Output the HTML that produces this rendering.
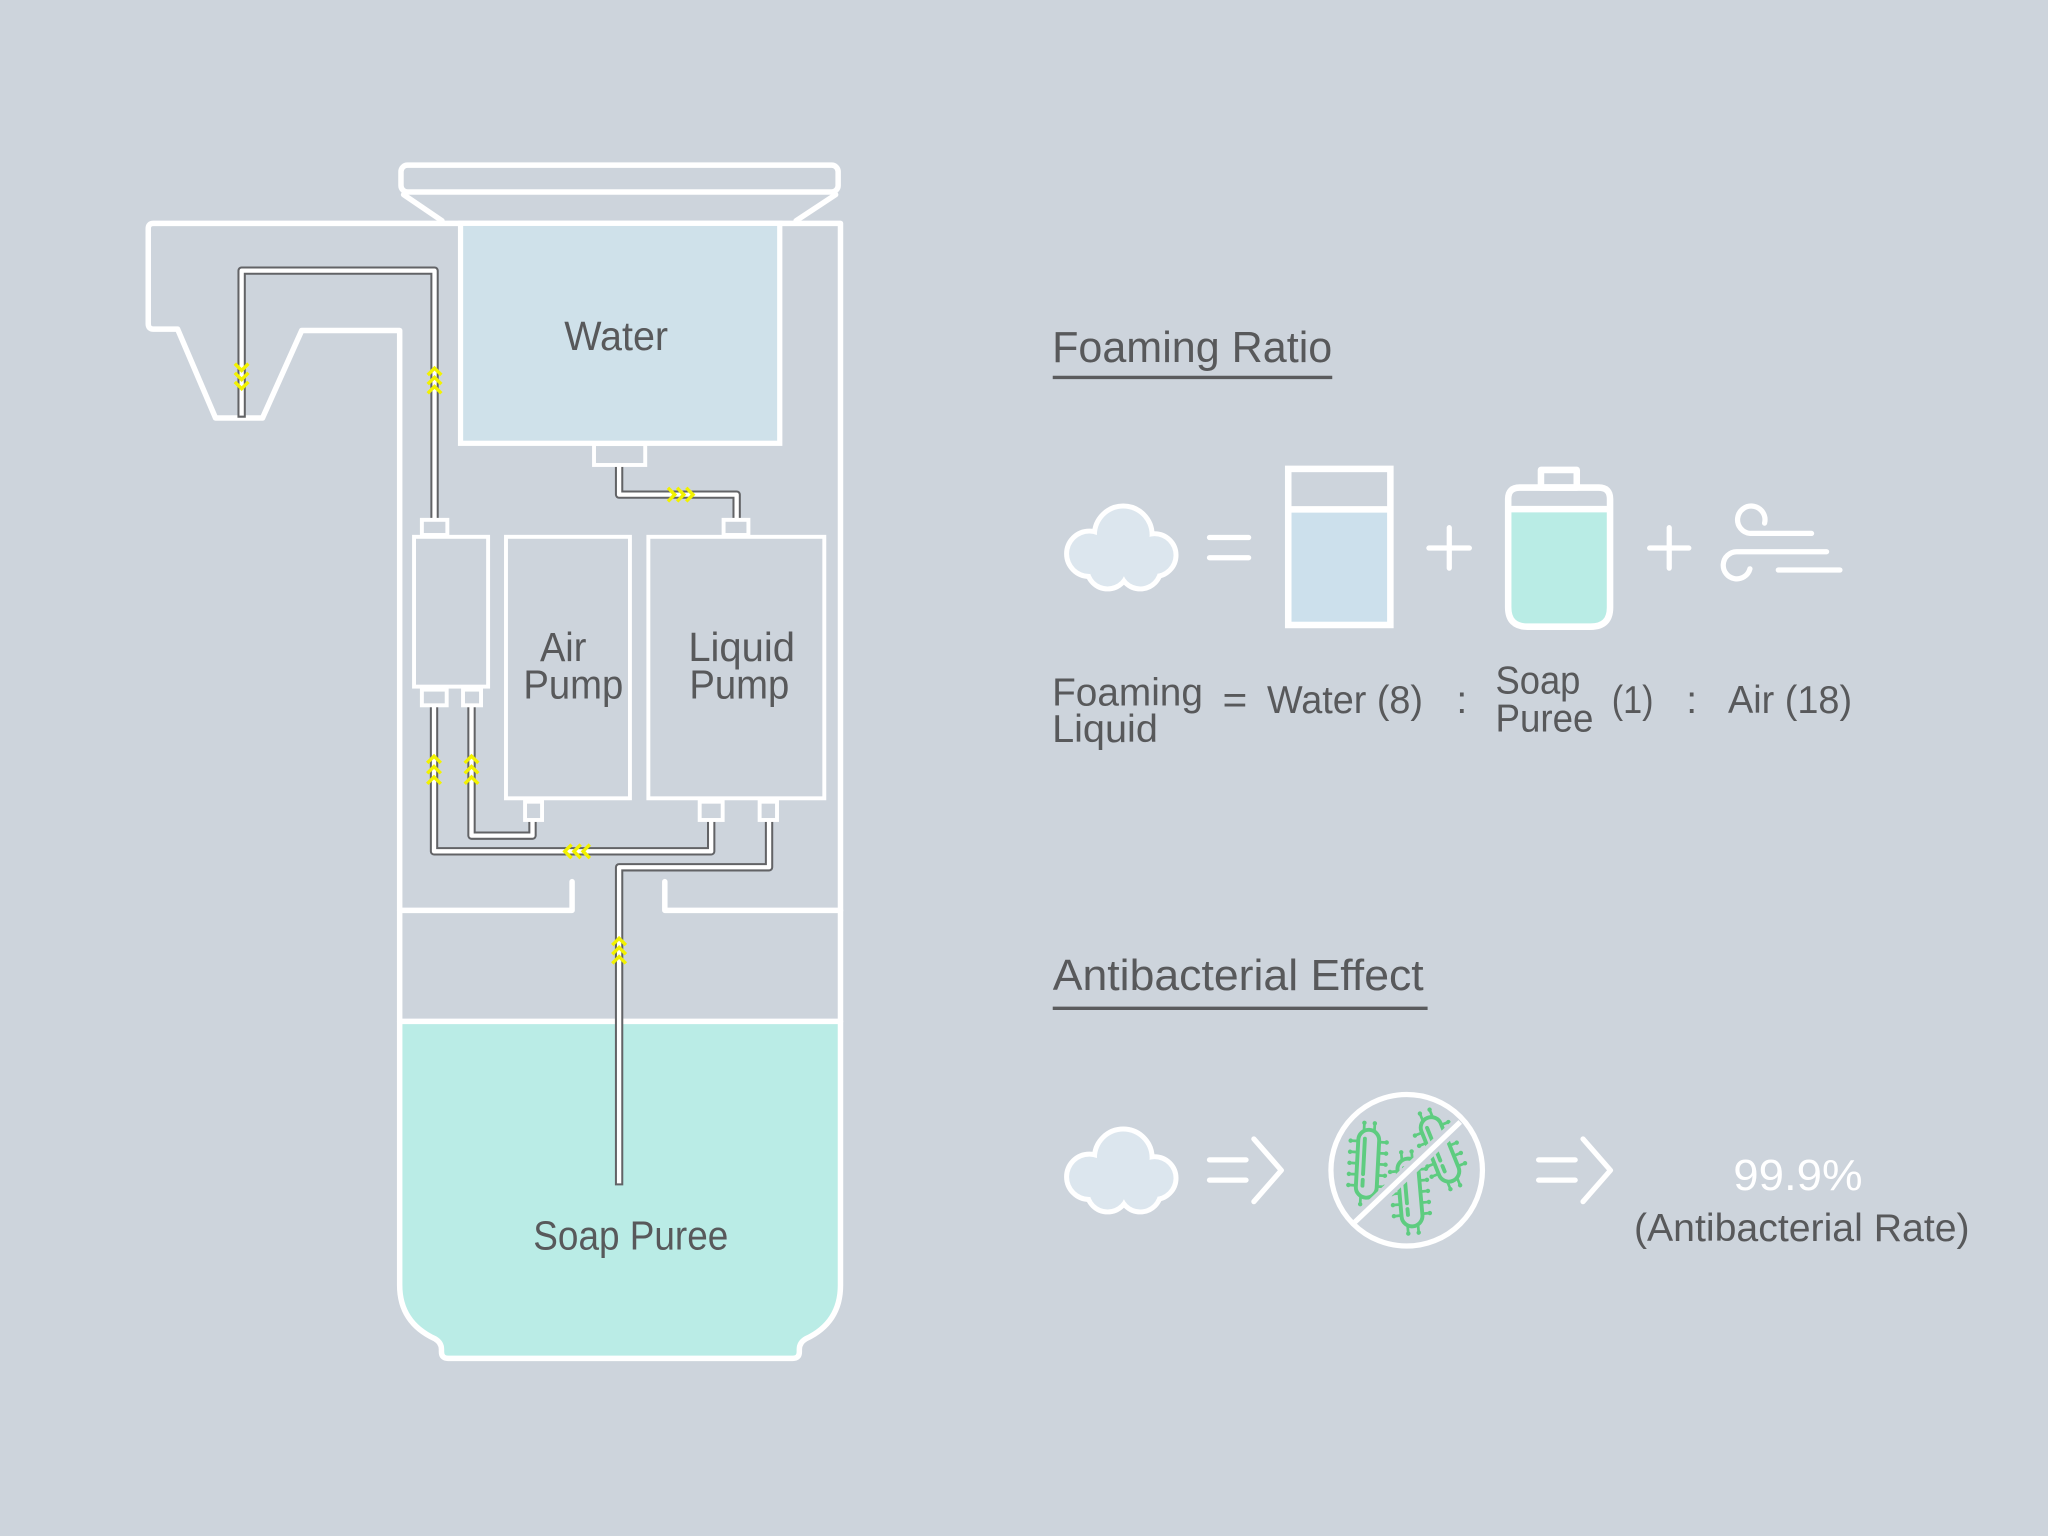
<!DOCTYPE html>
<html>
<head>
<meta charset="utf-8">
<style>
html,body{margin:0;padding:0;background:#CDD4DC;}
svg{display:block}
text{font-family:"Liberation Sans","DejaVu Sans",sans-serif;fill:#58595B;}
</style>
</head>
<body>
<svg xmlns="http://www.w3.org/2000/svg" width="2048" height="1536" viewBox="0 0 1568 1176">
<defs>
  <g id="bact">
    <rect x="-8" y="-26" width="16" height="52" rx="8"/>
    <path d="M-3,-19 V8 M-3,12.5 V17"/>
    <path stroke-width="2.1" d="M-8,-17 H-13 M-8,-8.5 H-13 M-8,0 H-13 M-8,8.5 H-13 M-8,17 H-13 M8,-17 H13 M8,-8.5 H13 M8,0 H13 M8,8.5 H13 M8,17 H13 M-4,-26 V-30.5 M4,-26 V-30.5 M-4,26 V30.5 M4,26 V30.5"/>
    <g fill="#5ECC80" stroke="none">
      <circle cx="-13.8" cy="-17" r="1.7"/><circle cx="-13.8" cy="-8.5" r="1.7"/><circle cx="-13.8" cy="0" r="1.7"/><circle cx="-13.8" cy="8.5" r="1.7"/><circle cx="-13.8" cy="17" r="1.7"/>
      <circle cx="13.8" cy="-17" r="1.7"/><circle cx="13.8" cy="-8.5" r="1.7"/><circle cx="13.8" cy="0" r="1.7"/><circle cx="13.8" cy="8.5" r="1.7"/><circle cx="13.8" cy="17" r="1.7"/>
      <circle cx="-4" cy="-31.2" r="1.7"/><circle cx="4" cy="-31.2" r="1.7"/><circle cx="-4" cy="31.2" r="1.7"/><circle cx="4" cy="31.2" r="1.7"/>
    </g>
  </g>
  <g id="cloud">
    <g fill="none" stroke="#FFFFFF" stroke-width="7.6">
      <circle cx="860" cy="409.5" r="20.2"/>
      <circle cx="834" cy="424" r="15.5"/>
      <circle cx="884" cy="425" r="14.5"/>
      <circle cx="848" cy="435" r="14"/>
      <circle cx="873" cy="435" r="14"/>
    </g>
    <g fill="#DCE6EE">
      <circle cx="860" cy="409.5" r="20.2"/>
      <circle cx="834" cy="424" r="15.5"/>
      <circle cx="884" cy="425" r="14.5"/>
      <circle cx="848" cy="435" r="14"/>
      <circle cx="873" cy="435" r="14"/>
      <circle cx="860" cy="424" r="15"/>
    </g>
  </g>
</defs>
<rect x="0" y="0" width="1568" height="1176" fill="#CDD4DC"/>

<!-- soap fill -->
<path d="M306,782 H643.5 V984 C643.5,1006 632,1018 617,1025 Q612,1028 612,1033 V1035 Q612,1040 607,1040 H343 Q338,1040 338,1035 V1033 Q338,1028 333,1025 C318,1018 306,1006 306,984 Z" fill="#BAECE6"/>

<!-- body outline -->
<g fill="none" stroke="#FFFFFF" stroke-width="4.2" stroke-linejoin="round" stroke-linecap="round">
  <path d="M117.5,171 H643.5 V984 C643.5,1006 632,1018 617,1025 Q612,1028 612,1033 V1035 Q612,1040 607,1040 H343 Q338,1040 338,1035 V1033 Q338,1028 333,1025 C318,1018 306,1006 306,984 V253 H231 L201,320 H165 L136,252 H117.5 Q113.5,252 113.5,248 V175 Q113.5,171 117.5,171 Z"/>
  <rect x="307" y="126.4" width="334.7" height="20.6" rx="5"/>
  <path d="M309,149 L338.4,169"/>
  <path d="M639.8,149 L609.5,169"/>
  <path d="M306,697 H438 V675"/>
  <path d="M509,675 V697 H643.5"/>
  <path d="M306,782 H643.5"/>
</g>

<!-- water tank -->
<rect x="352.6" y="171" width="244.4" height="168.4" fill="#CFE1EA" stroke="#FFFFFF" stroke-width="4"/>

<!-- tubes gray -->
<g fill="none" stroke="#626366" stroke-width="6.4" stroke-linejoin="round">
  <path d="M185,319.8 V207.2 H332.7 V399"/>
  <path d="M474,355 V378.7 H564 V399"/>
  <path d="M332.3,539 V651.8 H544.5 V627"/>
  <path d="M361,539 V639.8 H407.7 V627"/>
  <path d="M588.8,627 V664 H474 V907.6"/>
</g>
<!-- tubes white -->
<g fill="none" stroke="#FFFFFF" stroke-width="3.3" stroke-linejoin="round">
  <path d="M185,318.2 V207.2 H332.7 V399"/>
  <path d="M474,355 V378.7 H564 V399"/>
  <path d="M332.3,539 V651.8 H544.5 V627"/>
  <path d="M361,539 V639.8 H407.7 V627"/>
  <path d="M588.8,627 V664 H474 V906"/>
</g>

<!-- chevrons -->
<g fill="none" stroke="#F2F200" stroke-width="2.6" stroke-linejoin="miter">
  <path d="M179.8,278.4 L185,283.6 L190.2,278.4 M179.8,285.4 L185,290.6 L190.2,285.4 M179.8,292.4 L185,297.6 L190.2,292.4"/>
  <path d="M327.5,287.1 L332.7,281.9 L337.9,287.1 M327.5,294.1 L332.7,288.9 L337.9,294.1 M327.5,301.1 L332.7,295.9 L337.9,301.1"/>
  <path d="M511.4,373.5 L516.6,378.7 L511.4,383.9 M518.4,373.5 L523.6,378.7 L518.4,383.9 M525.4,373.5 L530.6,378.7 L525.4,383.9"/>
  <path d="M327.1,584.1 L332.3,578.9 L337.5,584.1 M327.1,592.1 L332.3,586.9 L337.5,592.1 M327.1,600.1 L332.3,594.9 L337.5,600.1"/>
  <path d="M355.8,584.1 L361,578.9 L366.2,584.1 M355.8,592.1 L361,586.9 L366.2,592.1 M355.8,600.1 L361,594.9 L366.2,600.1"/>
  <path d="M437.6,646.6 L432.4,651.8 L437.6,657 M444.6,646.6 L439.4,651.8 L444.6,657 M451.6,646.6 L446.4,651.8 L451.6,657"/>
  <path d="M468.8,723.6 L474,718.4 L479.2,723.6 M468.8,730.6 L474,725.4 L479.2,730.6 M468.8,737.6 L474,732.4 L479.2,737.6"/>
</g>

<!-- pump boxes & connectors -->
<g fill="#CDD4DC" stroke="#FFFFFF" stroke-width="3">
  <rect x="454.8" y="340" width="39.2" height="16"/>
  <rect x="317" y="411" width="56.7" height="114.7"/>
  <rect x="387.4" y="411" width="94.9" height="200.2"/>
  <rect x="496.4" y="411" width="134.7" height="200.2"/>
  <rect x="323" y="398" width="19.5" height="11.6"/>
  <rect x="554" y="398" width="19" height="11.6"/>
  <rect x="323" y="528" width="19" height="12"/>
  <rect x="354.5" y="528" width="13.8" height="12"/>
  <rect x="402" y="613.8" width="13" height="14"/>
  <rect x="535.7" y="613.8" width="17.6" height="14"/>
  <rect x="581.6" y="613.8" width="13.3" height="14"/>
</g>

<!-- left labels -->
<text x="432" y="268" font-size="31.5" textLength="79.5" lengthAdjust="spacingAndGlyphs">Water</text>
<text x="413.4" y="506" font-size="31" textLength="35.6" lengthAdjust="spacingAndGlyphs">Air</text>
<text x="400.7" y="534.6" font-size="31" textLength="76.5" lengthAdjust="spacingAndGlyphs">Pump</text>
<text x="527" y="506" font-size="31" textLength="81.7" lengthAdjust="spacingAndGlyphs">Liquid</text>
<text x="527.8" y="534.6" font-size="31" textLength="76.5" lengthAdjust="spacingAndGlyphs">Pump</text>
<text x="408.3" y="956.5" font-size="31" textLength="149.3" lengthAdjust="spacingAndGlyphs">Soap Puree</text>

<!-- Foaming Ratio heading -->
<text x="805.5" y="277" font-size="33" textLength="214.5" lengthAdjust="spacingAndGlyphs">Foaming Ratio</text>
<path d="M806,289 H1020" stroke="#5A5B5D" stroke-width="2.6"/>

<!-- cloud 1 -->
<use href="#cloud"/>

<!-- equals / plus -->
<g stroke="#FFFFFF" stroke-width="4" stroke-linecap="round" fill="none">
  <path d="M926,411.5 H956 M926,427 H956"/>
  <path d="M1094,419.6 H1125 M1109.6,404 V435"/>
  <path d="M1263,419.6 H1293 M1278,404 V435"/>
</g>

<!-- glass -->
<rect x="986.3" y="390" width="78.2" height="88.5" fill="#CCE0EC"/>
<rect x="986.3" y="359" width="78.2" height="119.5" fill="none" stroke="#FFFFFF" stroke-width="5"/>
<path d="M986.3,390 H1064.5" stroke="#FFFFFF" stroke-width="5"/>

<!-- bottle -->
<path d="M1154.7,390 H1232.7 V465 Q1232.7,479.8 1218,479.8 H1169.5 Q1154.7,479.8 1154.7,465 Z" fill="#B9ECE5"/>
<g fill="none" stroke="#FFFFFF" stroke-width="5" stroke-linejoin="round">
  <rect x="1179.8" y="359.8" width="27.4" height="13.5"/>
  <path d="M1163.5,373.3 H1224 Q1232.7,373.3 1232.7,382 V465 Q1232.7,479.8 1218,479.8 H1169.5 Q1154.7,479.8 1154.7,465 V382 Q1154.7,373.3 1163.5,373.3 Z"/>
  <path d="M1154.7,389.8 H1232.7"/>
</g>

<!-- wind -->
<g fill="none" stroke="#FFFFFF" stroke-width="4" stroke-linecap="round">
  <path d="M1351,400.5 A10.5,10.5 0 1 0 1340,408.4 H1387"/>
  <path d="M1398.5,422.4 H1329.6 A10.4,10.4 0 1 0 1339.8,435.5"/>
  <path d="M1361.5,436.4 H1408.7"/>
</g>

<!-- ratio text -->
<text x="805.5" y="540" font-size="30" textLength="115.5" lengthAdjust="spacingAndGlyphs">Foaming</text>
<text x="805.5" y="568" font-size="30" textLength="81" lengthAdjust="spacingAndGlyphs">Liquid</text>
<text x="936" y="546" font-size="30" textLength="19" lengthAdjust="spacingAndGlyphs">=</text>
<text x="970" y="546" font-size="30" textLength="119.5" lengthAdjust="spacingAndGlyphs">Water (8)</text>
<text x="1115" y="546" font-size="30">:</text>
<text x="1145" y="531" font-size="30" textLength="65" lengthAdjust="spacingAndGlyphs">Soap</text>
<text x="1145" y="560" font-size="30" textLength="75" lengthAdjust="spacingAndGlyphs">Puree</text>
<text x="1234" y="546" font-size="30" textLength="32" lengthAdjust="spacingAndGlyphs">(1)</text>
<text x="1291" y="546" font-size="30">:</text>
<text x="1323" y="546" font-size="30" textLength="95" lengthAdjust="spacingAndGlyphs">Air (18)</text>

<!-- Antibacterial heading -->
<text x="806" y="758" font-size="33" textLength="284" lengthAdjust="spacingAndGlyphs">Antibacterial Effect</text>
<path d="M806,772 H1093" stroke="#5A5B5D" stroke-width="2.6"/>

<!-- cloud 2 -->
<use href="#cloud" transform="translate(0,477)"/>

<!-- arrows -->
<g fill="none" stroke="#FFFFFF" stroke-width="4" stroke-linecap="round" stroke-linejoin="round">
  <path d="M926,888 H954 M926,903.5 H954"/>
  <path d="M960,872 L981,896 L960,920"/>
  <path d="M1178,888 H1206 M1178,903.5 H1206"/>
  <path d="M1212,872 L1233,896 L1212,920"/>
</g>

<!-- bacteria -->
<g fill="none" stroke="#5ECC80" stroke-width="3" stroke-linecap="round">
  <use href="#bact" transform="translate(1047,891) rotate(3)"/>
  <use href="#bact" transform="translate(1102.5,880) rotate(-22)"/>
  <use href="#bact" transform="translate(1079.5,913) rotate(-5)"/>
</g>
<!-- slash gap -->
<path d="M1118,859 L1037,936" stroke="#CDD4DC" stroke-width="10"/>
<!-- circle & slash -->
<circle cx="1077" cy="896" r="58" fill="none" stroke="#FFFFFF" stroke-width="4"/>
<path d="M1118,859 L1037,936" stroke="#FFFFFF" stroke-width="4"/>

<!-- result text -->
<text x="1327" y="911" font-size="33" textLength="99" lengthAdjust="spacingAndGlyphs" style="fill:#FFFFFF">99.9%</text>
<text x="1251" y="950" font-size="30" textLength="257" lengthAdjust="spacingAndGlyphs">(Antibacterial Rate)</text>
</svg>
</body>
</html>
